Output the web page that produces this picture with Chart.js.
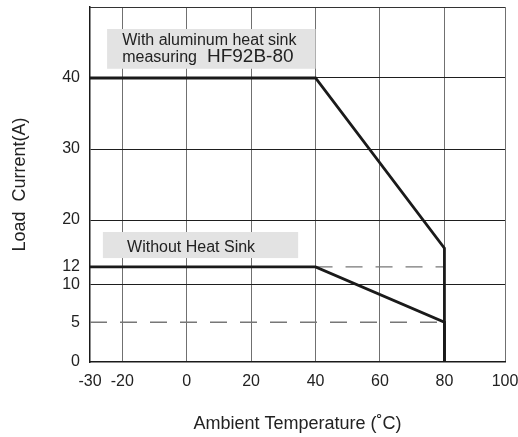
<!DOCTYPE html>
<html>
<head>
<meta charset="utf-8">
<script src="https://cdn.jsdelivr.net/npm/chart.js@4.4.1/dist/chart.umd.min.js"></script>
<style>
  html, body { margin: 0; padding: 0; background: #fff; }
  #wrap { width: 518px; height: 437px; }
</style>
</head>
<body>
<div id="wrap"><canvas id="chart"></canvas></div>
<script>
// ---- data ----
const xTicks = [-30, -20, 0, 20, 40, 60, 80, 100];
const yTicks = [0, 5, 10, 12, 20, 30, 40];

const temps = [-30, 40, 80, 80];
const withSinkCurrent = [40, 40, 15.2, 0];
const withoutSinkCurrent = [12, 12, 5, 0];

const guide12Temps = [40, 80];
const guide12Current = [12, 12];
const guide5Temps = [-30, 80];
const guide5Current = [5, 5];

// ---- uneven datasheet grid ----
// The printed chart does not space its ticks evenly. Each pair maps a real
// value to where the original drawing places it (in units of the axis).
const AXIS_CALIBRATION = {
  x: [[-30, -30], [80, 80], [100, 98.8]],
  y: [[0, 0], [5, 5.6], [10, 10.85], [12, 13.4], [20, 20], [50, 50]],
};

function mapThrough(pairs, v, from, to) {
  for (let i = 1; i < pairs.length; i++) {
    const a = pairs[i - 1], b = pairs[i];
    if (v <= b[from] || i === pairs.length - 1) {
      const t = (v - a[from]) / (b[from] - a[from]);
      return a[to] + t * (b[to] - a[to]);
    }
  }
  return v;
}

class CalibratedScale extends Chart.LinearScale {
  getPixelForValue(value) {
    if (value === null || value === undefined) return NaN;
    return super.getPixelForValue(mapThrough(AXIS_CALIBRATION[this.id], value, 0, 1));
  }
  getValueForPixel(pixel) {
    return mapThrough(AXIS_CALIBRATION[this.id], super.getValueForPixel(pixel), 1, 0);
  }
}
CalibratedScale.id = 'calibrated';
CalibratedScale.defaults = Chart.LinearScale.defaults;
Chart.register(CalibratedScale);

// ---- notes drawn in the plot ----
const noteBoxes = [
  { x0: -24.7, x1: 40, y0: 41.3, y1: 46.9 },
  { x0: -26, x1: 34.6, y0: 13.5, y1: 17.95 },
];
const noteTexts = [
  { text: 'With aluminum heat sink', x: -20, y: 44.65, size: 16 },
  { text: 'measuring', x: -20, y: 42.25, size: 16 },
  { text: 'HF92B-80', x: 6.3, y: 42.25, size: 19 },
  { text: 'Without Heat Sink', x: -18.5, y: 14.53, size: 16 },
];

const FONT = '"Liberation Sans", Arial, sans-serif';
const INK = '#222';

const notesPlugin = {
  id: 'notes',
  beforeDatasetsDraw(chart) {
    const { ctx, chartArea, scales: { x, y } } = chart;
    ctx.save();
    ctx.fillStyle = '#e3e3e3';
    noteBoxes.forEach(b => {
      const left = x.getPixelForValue(b.x0), right = x.getPixelForValue(b.x1);
      const top = y.getPixelForValue(b.y1), bottom = y.getPixelForValue(b.y0);
      ctx.fillRect(left, top, right - left, bottom - top);
    });
    ctx.fillStyle = INK;
    ctx.textBaseline = 'alphabetic';
    ctx.textAlign = 'left';
    noteTexts.forEach(t => {
      ctx.font = `${t.size}px ${FONT}`;
      ctx.fillText(t.text, x.getPixelForValue(t.x), y.getPixelForValue(t.y));
    });
    // top edge of the frame
    ctx.strokeStyle = '#333';
    ctx.lineWidth = 1;
    ctx.beginPath();
    ctx.moveTo(chartArea.left, chartArea.top + 0.5);
    ctx.lineTo(chartArea.right, chartArea.top + 0.5);
    ctx.stroke();
    ctx.restore();
  }
};

function pts(xs, ys) {
  return xs.map((v, i) => ({ x: v, y: ys[i] }));
}

Chart.defaults.font.family = FONT;
Chart.defaults.color = INK;

new Chart(document.getElementById('chart'), {
  type: 'line',
  data: {
    datasets: [
      { data: pts(guide5Temps, guide5Current), borderColor: '#777', borderWidth: 1.3, borderDash: [17, 13], order: 3 },
      { data: pts(guide12Temps, guide12Current), borderColor: '#777', borderWidth: 1.3, borderDash: [17, 13], order: 3 },
      { data: pts(temps, withSinkCurrent), borderColor: '#1a1a1a', borderWidth: 2.8, order: 1 },
      { data: pts(temps, withoutSinkCurrent), borderColor: '#1a1a1a', borderWidth: 2.8, order: 1 },
    ]
  },
  options: {
    responsive: true,
    maintainAspectRatio: false,
    animation: false,
    events: [],
    layout: { padding: { top: 7, right: 13, bottom: 0, left: 0 } },
    elements: {
      point: { radius: 0 },
      line: { tension: 0, borderCapStyle: 'butt', borderJoinStyle: 'miter', fill: false }
    },
    plugins: { legend: { display: false }, tooltip: { enabled: false } },
    scales: {
      x: {
        type: 'calibrated',
        position: 'bottom',
        bounds: 'data',
        min: -30,
        max: mapThrough(AXIS_CALIBRATION.x, 100, 0, 1),
        afterBuildTicks: s => { s.ticks = xTicks.map(v => ({ value: v })); },
        afterFit: s => { s.height = 75; s.paddingLeft = 0; s.paddingRight = 0; },
        ticks: { padding: 10, color: INK, font: { size: 16 }, autoSkip: false, maxRotation: 0, callback: v => String(v) },
        grid: {
          drawTicks: false,
          lineWidth: 1,
          color: c => (c.tick && c.tick.value === -30) ? 'rgba(0,0,0,0)' : '#707070'
        },
        border: { display: true, color: '#1a1a1a', width: 1.5 },
        title: { display: true, text: 'Ambient Temperature (˚C)', color: INK, font: { size: 18 }, padding: { top: 0, bottom: 2 } }
      },
      y: {
        type: 'calibrated',
        bounds: 'data',
        min: 0,
        max: 50,
        afterBuildTicks: s => { s.ticks = yTicks.map(v => ({ value: v })); },
        afterFit: s => { s.width = 90; s.paddingTop = 0; s.paddingBottom = 0; },
        ticks: { padding: 10, color: INK, font: { size: 16 }, autoSkip: false, callback: v => String(v) },
        grid: {
          drawTicks: false,
          lineWidth: 1,
          color: c => (c.tick && [10, 20, 30, 40].includes(c.tick.value)) ? '#1e1e1e' : 'rgba(0,0,0,0)'
        },
        border: { display: true, color: '#1a1a1a', width: 1.5 },
        title: { display: true, text: 'Load  Current(A)', color: INK, font: { size: 18 }, padding: { top: 9, bottom: 0 } }
      }
    }
  },
  plugins: [notesPlugin]
});
</script>
</body>
</html>
